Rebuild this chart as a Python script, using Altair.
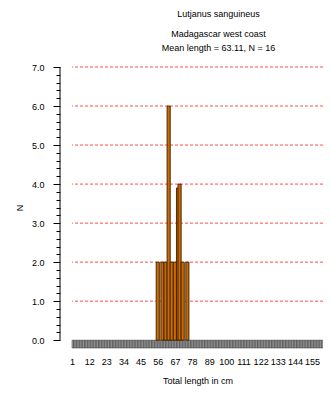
import altair as alt
import pandas as pd

# Length bins (cm) shown along the x axis strip
bins = list(range(1, 162))
# Observed length classes (cm) and counts N
bar_cm = [55, 58, 60, 62, 64, 66, 68, 69, 71, 74]
bar_n = [2, 2, 2, 6, 2, 2, 3.9, 4, 2, 2]
grid_vals = [1, 2, 3, 4, 5, 6, 7]
x_ticks = [1, 12, 23, 34, 45, 56, 67, 78, 89, 100, 111, 122, 133, 144, 155]
y_ticks = [round(i * 0.2, 1) for i in range(36)]

title_main = "Lutjanus sanguineus"
subtitle = ["Madagascar west coast", "Mean length = 63.11, N = 16"]

FONT = "Liberation Sans"

strip_df = pd.DataFrame({"cm": bins})
strip_df["cm2"] = strip_df["cm"] + 1
strip_df["lo"] = -0.2
strip_df["hi"] = 0.0

bars_df = pd.DataFrame({"cm": bar_cm, "n": bar_n})
bars_df["cm2"] = bars_df["cm"] + 2
bars_df["base"] = 0.0

grid_df = pd.DataFrame({"g": grid_vals})
axis_df = pd.DataFrame({"a": [0.0], "b": [7.0]})

xscale = alt.Scale(domain=[1, 162], nice=False, zero=False)
yscale = alt.Scale(domain=[-0.2, 7], nice=False, zero=False)

is_int = "abs(datum.value - round(datum.value)) < 0.001"

y_axis = alt.Axis(
    values=y_ticks,
    offset=12,
    domain=False,
    grid=False,
    tickColor="#000",
    tickSize={"condition": {"test": is_int, "value": 7}, "value": 4},
    labelExpr=f"{is_int} ? format(datum.value, '.1f') : ''",
    labelPadding=9,
    labelFont=FONT,
    labelFontSize=9,
    labelColor="#000",
    title="N",
    titleFont=FONT,
    titleFontSize=9,
    titleFontWeight="normal",
    titleColor="#000",
    titlePadding=7,
)
x_axis = alt.Axis(
    values=x_ticks,
    ticks=False,
    domain=False,
    grid=False,
    labelPadding=9,
    labelFont=FONT,
    labelFontSize=9,
    labelColor="#000",
    labelFlush=False,
    title="Total length in cm",
    titleFont=FONT,
    titleFontSize=9,
    titleFontWeight="normal",
    titleColor="#000",
    titlePadding=10,
)

grid = alt.Chart(grid_df).mark_rule(color="#ff2020", strokeDash=[3, 2], strokeWidth=1, opacity=0.8).encode(
    y=alt.Y("g:Q", scale=yscale, axis=y_axis)
)

strip = alt.Chart(strip_df).mark_rect(fill="#a8a8a8", stroke="#303030", strokeWidth=0.5).encode(
    x=alt.X("cm:Q", scale=xscale, axis=x_axis),
    x2="cm2:Q",
    y=alt.Y("lo:Q", scale=yscale, axis=y_axis),
    y2="hi:Q",
)

shadow = alt.Chart(bars_df).mark_rect(fill="#8c8c8c", xOffset=1.3).encode(
    x=alt.X("cm:Q", scale=xscale, axis=x_axis),
    x2="cm2:Q",
    y=alt.Y("base:Q", scale=yscale, axis=y_axis),
    y2="n:Q",
)

bars = alt.Chart(bars_df).mark_rect(fill="#cc6a00", stroke="#3a2000", strokeWidth=0.9).encode(
    x=alt.X("cm:Q", scale=xscale, axis=x_axis),
    x2="cm2:Q",
    y=alt.Y("base:Q", scale=yscale, axis=y_axis),
    y2="n:Q",
)

yline = alt.Chart(axis_df).mark_rule(color="#000", strokeWidth=1).encode(
    x=alt.value(-12),
    y=alt.Y("a:Q", scale=yscale, axis=y_axis),
    y2="b:Q",
)

chart = alt.layer(grid, strip, shadow, bars, yline).properties(
    width=251,
    height=281,
    autosize=alt.AutoSizeParams(type="none"),
    padding={"left": 64, "top": 59, "right": 0, "bottom": 38},
    title=alt.TitleParams(
        text=title_main,
        subtitle=subtitle,
        font=FONT,
        fontSize=9,
        fontWeight="normal",
        color="#000",
        subtitleFont=FONT,
        subtitleFontSize=9,
        subtitleColor="#000",
        subtitleLineHeight=14,
        subtitlePadding=10.4,
        anchor="middle",
        dx=21,
        offset=10.5,
    ),
).configure_view(stroke=None)

chart.save("out.html", embed_options={"renderer": "svg", "actions": False})
